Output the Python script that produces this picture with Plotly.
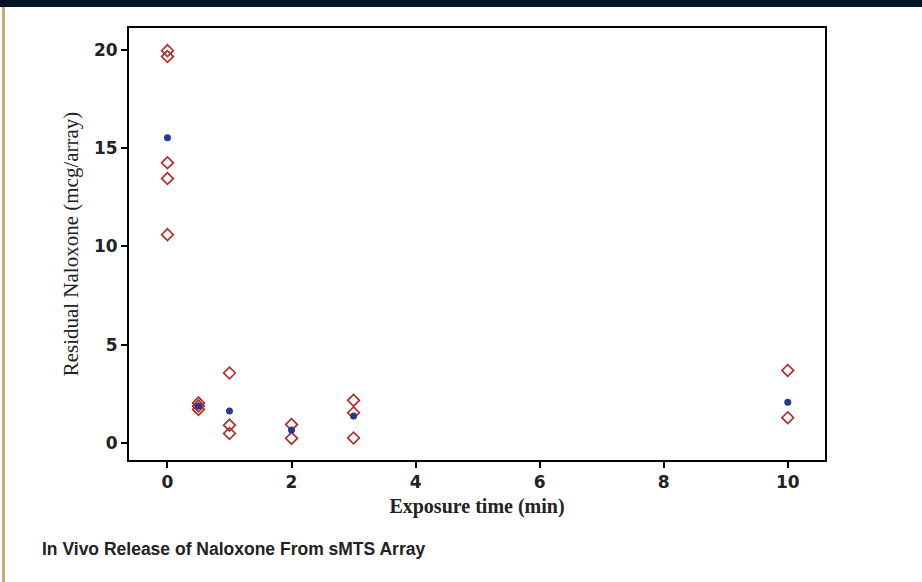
import plotly.graph_objects as go

# Individual measurements (open red diamonds)
ind_time = [0, 0, 0, 0, 0,
            0.5, 0.5, 0.5,
            1, 1, 1,
            2, 2,
            3, 3, 3,
            10, 10]
ind_value = [19.95, 19.65, 14.25, 13.45, 10.6,
             2.05, 1.9, 1.72,
             3.57, 0.92, 0.5,
             0.95, 0.25,
             2.18, 1.55, 0.27,
             3.7, 1.3]

# Mean values (filled blue dots)
mean_time = [0, 0.5, 1, 2, 3, 10]
mean_value = [15.52, 1.9, 1.64, 0.68, 1.38, 2.08]

x_ticks = [0, 2, 4, 6, 8, 10]
y_ticks = [0, 5, 10, 15, 20]

title_text = "In Vivo Release of Naloxone From sMTS Array"
x_title = "Exposure time (min)"
y_title = "Residual Naloxone (mcg/array)"

W, H = 922, 582
L, R, T, B = 129, 97, 28, 122
pw, ph = W - L - R, H - T - B


def px(xp):
    return (xp - L) / pw


def py(yp):
    return (H - B - yp) / ph


fig = go.Figure()
fig.add_trace(go.Scatter(
    x=ind_time, y=ind_value, mode="markers",
    marker=dict(symbol="diamond-open", size=9, color="#b0302c",
                line=dict(width=1.7, color="#b0302c")),
    showlegend=False, hoverinfo="x+y"))
fig.add_trace(go.Scatter(
    x=mean_time, y=mean_value, mode="markers",
    marker=dict(symbol="circle", size=7, color="#283a8c"),
    showlegend=False, hoverinfo="x+y"))

axis_common = dict(showline=True, linecolor="black", linewidth=2, mirror=True,
                   ticks="outside", ticklen=6, tickwidth=1.5, tickcolor="black",
                   showgrid=False, zeroline=False,
                   tickfont=dict(family="DejaVu Sans", size=17, color="#222222", weight="bold"))

fig.update_xaxes(range=[-0.62, 10.6], tickvals=x_ticks, **axis_common,
                 title=dict(text=x_title, standoff=8,
                            font=dict(family="Liberation Serif", size=20, color="#222222", weight="bold")))
fig.update_yaxes(range=[-0.85, 21.1], tickvals=y_ticks, **axis_common,
                 title=dict(text=y_title, standoff=10,
                            font=dict(family="Liberation Serif", size=21, color="#222222")))

shapes = [
    # dark top band
    dict(type="rect", xref="paper", yref="paper", x0=px(0), x1=px(W), y0=py(7), y1=py(0),
         fillcolor="#001624", line=dict(width=0), layer="above"),
    # tan left border
    dict(type="rect", xref="paper", yref="paper", x0=px(2), x1=px(5), y0=py(H), y1=py(7),
         fillcolor="#c9a77a", line=dict(width=0), layer="above"),
]

fig.update_layout(
    width=W, height=H,
    margin=dict(l=L, r=R, t=T, b=B),
    paper_bgcolor="white", plot_bgcolor="white",
    shapes=shapes,
    annotations=[dict(text=title_text, xref="paper", yref="paper",
                      x=px(40), y=py(549), xanchor="left", yanchor="middle",
                      showarrow=False,
                      font=dict(family="Liberation Sans", size=17.5, color="#222222", weight="bold"))],
)

fig.write_html("out.html", config={"displayModeBar": False},
               post_script="document.body.style.margin='0';")
